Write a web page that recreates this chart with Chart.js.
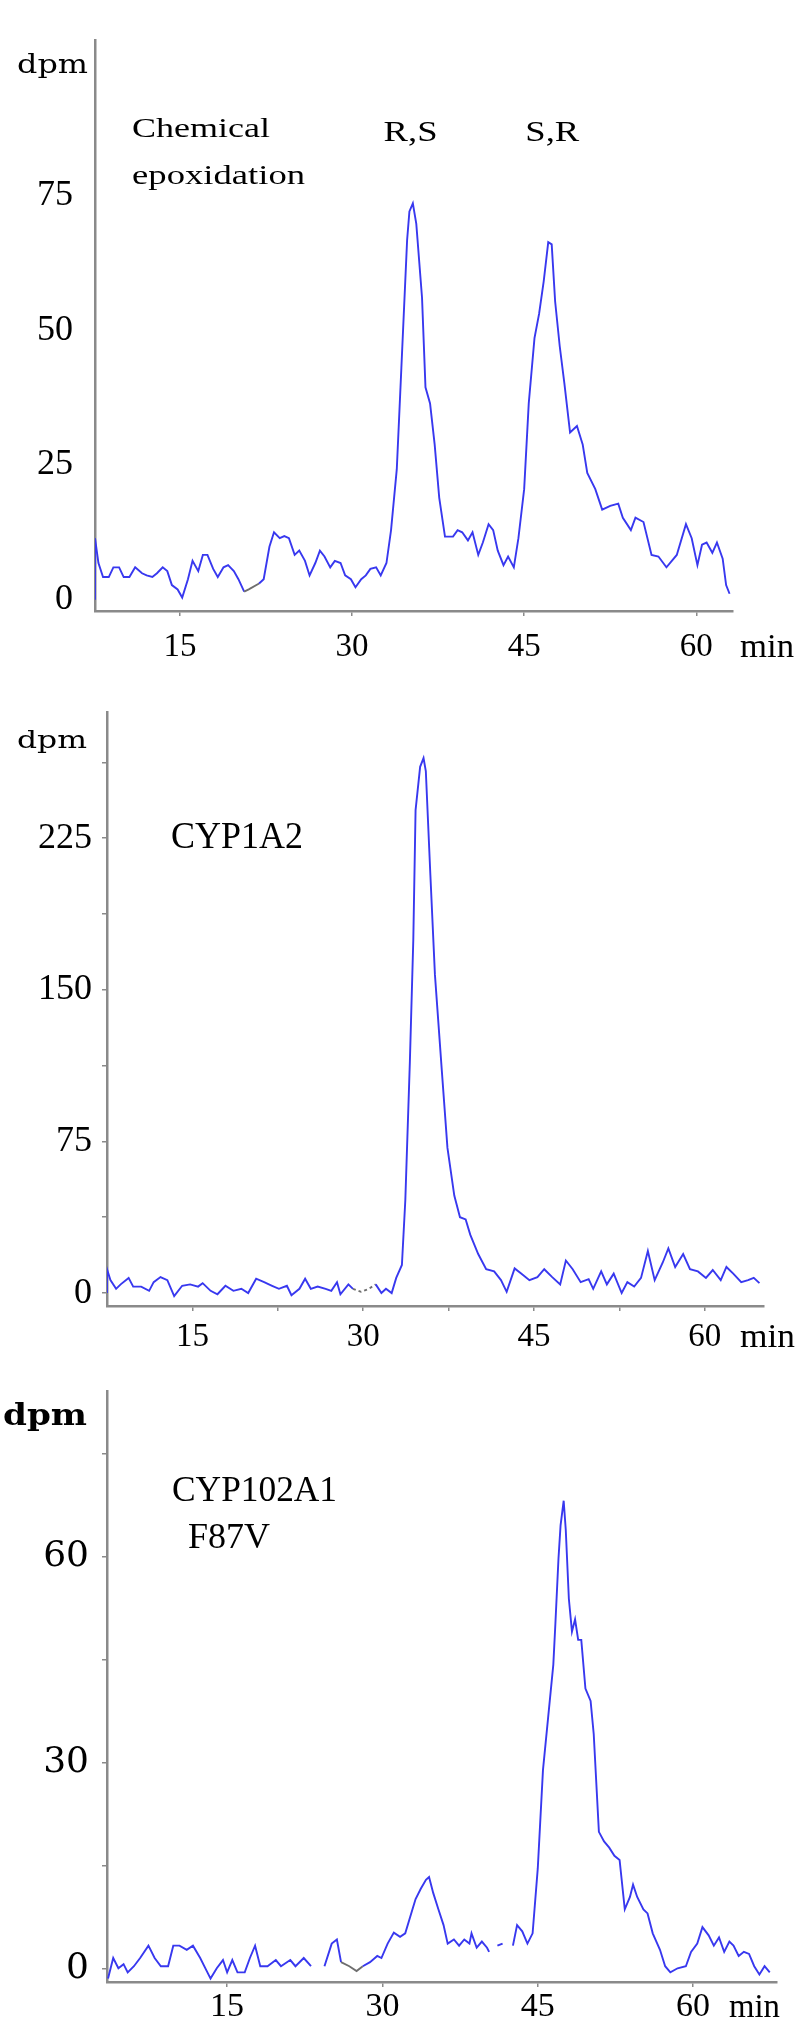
<!DOCTYPE html>
<html>
<head>
<meta charset="utf-8">
<script src="https://cdn.jsdelivr.net/npm/chart.js@4.4.0/dist/chart.umd.min.js"></script>
<style>
html, body { margin: 0; padding: 0; background: #fff; }
#wrap { position: relative; width: 797px; height: 2021px; background: #fff; }
canvas { position: absolute; left: 0; }
</style>
</head>
<body>
<div id="wrap">
  <canvas id="c1" width="797" height="680" style="top:0px;width:797px;height:680px"></canvas>
  <canvas id="c2" width="797" height="680" style="top:680px;width:797px;height:680px"></canvas>
  <canvas id="c3" width="797" height="661" style="top:1360px;width:797px;height:661px"></canvas>
</div>
<script>
// ---------- DATA ----------
// Panel 1: Chemical epoxidation (time in min, radioactivity in dpm)
const timeChem = [7.6,7.6,7.9,8.3,8.8,9.2,9.7,10.1,10.6,11.1,
  11.7,12.1,12.6,13.0,13.5,13.9,14.3,14.8,15.2,15.7,
  16.1,16.6,17.0,17.4,17.9,18.3,18.8,19.2,19.7,20.1,
  20.6,21.0,21.9,22.3,22.8,23.2,23.7,24.1,24.5,25.0,
  25.4,25.9,26.3,26.8,27.2,27.6,28.1,28.5,29.0,29.4,
  29.9,30.3,30.8,31.2,31.6,32.1,32.5,33.0,33.4,33.9,
  34.3,34.8,35.0,35.3,35.6,36.1,36.4,36.8,37.2,37.6,
  38.1,38.8,39.2,39.6,40.1,40.5,41.0,41.4,41.9,42.3,
  42.7,43.2,43.6,44.1,44.5,45.0,45.4,45.9,46.3,46.7,
  47.1,47.4,47.7,48.1,48.5,49.0,49.6,50.1,50.5,51.2,
  51.8,52.5,53.2,53.6,54.3,54.7,55.4,56.1,56.7,57.4,
  58.3,59.1,59.6,60.1,60.5,60.9,61.4,61.8,62.3,62.6,
  62.9];
const dpmChem = [0,11.4,6.8,4.2,4.2,6.0,6.0,4.2,4.2,6.0,
  4.9,4.5,4.2,4.9,6.0,5.3,2.7,1.9,0.4,3.8,
  7.2,5.3,8.3,8.3,5.7,4.2,6.0,6.4,5.3,3.8,
  1.5,1.9,3.0,3.8,9.8,12.5,11.4,11.8,11.4,8.3,
  9.1,7.2,4.5,6.8,9.1,8.0,6.0,7.2,6.8,4.5,
  3.8,2.3,3.8,4.5,5.7,6.0,4.5,6.8,12.9,24.2,
  43.0,66.7,72.0,73.5,69.7,56.0,39.4,36.4,28.8,18.9,
  11.7,11.7,12.9,12.5,11.0,12.5,8.3,10.6,14.0,12.9,
  9.1,6.4,8.0,6.0,11.4,20.5,36.4,48.5,53.0,59.0,
  66.3,65.9,55.3,47.0,40.2,31.0,32.2,28.8,23.5,20.5,
  16.7,17.4,17.8,15.2,12.9,15.2,14.4,8.3,8.0,6.0,
  8.3,14.0,11.4,6.4,10.2,10.6,8.7,10.6,7.6,2.7,
  1.1];
const grayChem = [[20.6, 21.9]];
const xTicksChem = [15, 30, 45, 60];
const xLabelsChem = [15, 30, 45, 60];
const yTicksChem = [0, 25, 50, 75];
const yLabelsChem = [0, 25, 50, 75];

// Panel 2: CYP1A2
const timeCyp1 = [7.5,7.5,7.8,8.3,8.7,9.4,9.8,10.5,11.2,11.6,
  12.2,12.8,13.4,14.1,14.8,15.5,15.9,16.6,17.2,17.9,
  18.6,19.3,19.9,20.6,21.3,22.0,22.6,23.3,23.7,24.4,
  24.9,25.4,26.0,26.7,27.2,27.7,28.0,28.7,29.1,29.8,
  30.5,31.1,31.6,32.0,32.5,32.9,33.4,33.7,34.1,34.4,
  34.6,35.0,35.3,35.5,35.9,36.3,36.9,37.4,38.0,38.5,
  39.0,39.4,40.1,40.8,41.5,42.1,42.6,43.3,43.9,44.6,
  45.3,45.9,46.6,47.3,47.8,48.4,49.1,49.8,50.2,50.9,
  51.4,52.0,52.7,53.2,53.8,54.4,55.0,55.6,56.3,56.8,
  57.4,58.1,58.7,59.4,60.1,60.7,61.4,61.9,62.5,63.2,
  63.8,64.3,64.8];
const dpmCyp1 = [0,11.8,6.4,2.1,4.3,7.5,3.2,3.2,1.1,5.4,
  7.9,6.4,-1.5,3.6,4.3,3.2,4.9,1.1,-0.6,3.6,
  1.1,2.1,0,7.1,5.4,3.6,2.1,3.6,-1.1,2.1,
  7.1,2.1,3.2,2.1,1.1,5.4,-0.6,4.3,2.1,0.6,
  2.1,4.3,0,2.1,0,7.5,13.9,46,114.6,174.6,
  238.9,260.3,264.6,258.2,206.8,157.5,110.4,71.8,48.2,37.5,
  36.4,28.9,19.3,11.8,10.7,6.4,0.6,12.2,9.6,6.4,
  7.9,11.8,7.9,4.3,16.1,11.8,5.4,6.9,2.1,10.7,
  4.3,9.6,0,5.4,3.2,7.5,20.8,6.4,15,22.1,
  12.9,19.3,11.8,10.7,7.5,11.4,6.4,12.9,9.6,5.4,
  6.4,7.5,4.9];
const grayCyp1 = [[29.1, 31.1]];
const xTicksCyp1 = [15, 22.5, 30, 37.5, 45, 52.5, 60];
const xLabelsCyp1 = [15, 30, 45, 60];
const yTicksCyp1 = [0, 37.5, 75, 112.5, 150, 187.5, 225, 262.5];
const yLabelsCyp1 = [0, 75, 150, 225];

// Panel 3: CYP102A1 F87V (null = break in the trace)
const timeCyp102 = [3.5,4.0,4.5,5.0,5.4,6.0,6.6,7.4,8.0,8.6,
  9.3,9.8,10.4,11.1,11.7,12.4,13.0,13.4,14.0,14.6,
  15.0,15.5,16.0,16.7,17.2,17.7,18.2,18.9,19.7,20.2,
  21.1,21.6,22.4,23.1,23.7,24.4,25.1,25.6,26.0,26.8,
  27.5,28.1,28.8,29.5,29.9,30.5,31.1,31.7,32.2,32.9,
  33.2,33.7,34.2,34.5,34.9,35.4,35.9,36.3,36.9,37.4,
  37.9,38.4,38.6,39.1,39.6,40.1,40.3,40.7,41.1,41.6,
  42.0,42.6,43.0,43.5,44.0,44.5,45.0,45.5,46.0,46.5,
  46.7,47.0,47.2,47.5,47.7,48.0,48.3,48.6,48.9,49.2,
  49.6,50.1,50.4,50.9,51.4,51.9,52.4,52.9,53.4,53.9,
  54.2,54.6,55.2,55.6,56.1,56.8,57.3,57.8,58.5,59.3,
  59.8,60.4,60.9,61.5,62.0,62.5,63.0,63.5,63.9,64.4,
  64.9,65.4,65.9,66.4,66.9,67.4];
const dpmCyp102 = [-1.5,1.5,0,0.6,-0.6,0.3,1.5,3.3,1.5,0.3,
  0.3,3.3,3.3,2.7,3.3,1.5,-0.3,-1.5,0,1.2,
  -0.6,1.2,-0.6,-0.6,1.5,3.3,0.3,0.3,1.2,0.3,
  1.2,0.3,1.5,0.3,null,0.3,3.6,4.2,0.9,0.3,
  -0.4,0.3,0.9,1.8,1.5,3.6,5.2,4.6,5.1,8.6,
  10.1,11.6,12.9,13.3,11,8.6,6.3,3.6,4.2,3.3,
  4.2,3.6,5.1,3,3.9,3,2.4,null,3.3,3.6,
  null,3.3,6.3,5.4,3.6,5.1,14.6,28.9,36.6,44.3,
  50.3,59.8,64.6,68.2,64,53.9,49.1,50.9,47.9,47.9,
  40.8,39,34.2,19.9,18.5,17.6,16.4,15.8,8.6,10.4,
  12.2,10.4,8.6,8,5.1,2.7,0.3,-0.6,0,0.3,
  2.4,3.6,6,4.8,3.3,4.5,2.4,3.9,3.3,1.8,
  2.4,2.1,0.3,-0.9,0.3,-0.6];
const grayCyp102 = [[26.0, 28.1]];
const xTicksCyp102 = [15, 30, 45, 60];
const xLabelsCyp102 = [15, 30, 45, 60];
const yTicksCyp102 = [0, 15, 30, 45, 60, 75];
const yLabelsCyp102 = [0, 30, 60];

// ---------- TEXT PLUGIN ----------
const panelText = {
  id: 'panelText',
  afterDraw(chart, args, opts) {
    const ctx = chart.ctx, ca = chart.chartArea;
    const xs = chart.scales.x, ys = chart.scales.y;
    ctx.save();
    ctx.fillStyle = '#000';
    ctx.textBaseline = 'alphabetic';
    for (const it of (opts.items || [])) {
      let px, py;
      if (it.anchor === 'data') { px = xs.getPixelForValue(it.x); py = ys.getPixelForValue(it.y); }
      else if (it.anchor === 'yTitle') { px = ca.left - it.dx; py = ca.top + it.dy; }
      else { px = ca.right + it.dx; py = ca.bottom + it.dy; }
      ctx.font = it.font;
      ctx.textAlign = it.align || 'left';
      const w = ctx.measureText(it.text).width;
      const sx = it.width ? it.width / w : 1;
      ctx.save();
      ctx.translate(px, py);
      ctx.scale(sx, 1);
      ctx.fillText(it.text, 0, 0);
      ctx.restore();
    }
    ctx.restore();
  }
};

const TRACE = '#3838ef';
const AXIS = '#8a8a8a';

function inGray(ranges, a, b) {
  return ranges.some(r => a >= r[0] - 1e-6 && b <= r[1] + 1e-6);
}

function makePanel(id, p) {
  const pts = p.times.map((t, i) => ({ x: t, y: p.values[i] }));
  return new Chart(document.getElementById(id), {
    type: 'line',
    data: {
      datasets: [{
        data: pts,
        borderColor: TRACE,
        borderWidth: 1.9,
        pointRadius: 0,
        tension: 0,
        spanGaps: false,
        segment: {
          borderColor: c => inGray(p.gray, c.p0.parsed.x, c.p1.parsed.x) ? '#6e6e6e' : undefined,
          borderDash: c => inGray(p.gray, c.p0.parsed.x, c.p1.parsed.x) && p.grayDash ? [3, 3] : undefined
        }
      }]
    },
    options: {
      responsive: false,
      animation: false,
      devicePixelRatio: 1,
      layout: { padding: { top: p.padTop, right: p.padRight, bottom: 0, left: 0 } },
      plugins: {
        legend: { display: false },
        tooltip: { enabled: false },
        panelText: { items: p.texts }
      },
      scales: {
        x: {
          type: 'linear', min: p.xMin, max: p.xMax,
          afterBuildTicks: s => { s.ticks = p.xTicks.map(v => ({ value: v })); },
          afterFit: s => { s.height = p.xHeight; },
          ticks: {
            autoSkip: false, maxRotation: 0, minRotation: 0,
            padding: p.xPad, color: '#000',
            font: { family: 'Liberation Serif', size: p.xFont, lineHeight: 1 },
            callback: v => p.xLabels.includes(v) ? String(v) : ''
          },
          grid: { drawOnChartArea: false, drawTicks: true, tickLength: 5, color: AXIS, lineWidth: 1.5 },
          border: { display: true, color: AXIS, width: 2.5 }
        },
        y: {
          type: 'linear', min: p.yMin, max: p.yMax,
          afterBuildTicks: s => { s.ticks = p.yTicks.map(v => ({ value: v })); },
          afterFit: s => { s.width = p.yWidth; },
          ticks: {
            autoSkip: false, padding: p.yPad, color: '#000',
            font: { family: p.yFamily, size: p.yFont, lineHeight: 1 },
            callback: v => p.yLabels.includes(v) ? String(v) : ''
          },
          grid: { drawOnChartArea: false, drawTicks: p.yTickMarks, tickLength: 5, color: AXIS, lineWidth: 1.5 },
          border: { display: true, color: AXIS, width: 2.5 }
        }
      }
    },
    plugins: [panelText]
  });
}

makePanel('c1', {
  times: timeChem, values: dpmChem, gray: grayChem, grayDash: false,
  xMin: 7.6, xMax: 63.2, yMin: -2.1, yMax: 103.8,
  xTicks: xTicksChem, xLabels: xLabelsChem, yTicks: yTicksChem, yLabels: yLabelsChem,
  padTop: 5, padRight: 64, xHeight: 69, yWidth: 95,
  xPad: 14.5, xFont: 33, yPad: 22, yFont: 36, yFamily: 'Liberation Serif', yTickMarks: false,
  texts: [
    { anchor: 'yTitle', text: 'dpm', dx: 7, dy: 33, font: '26px "DejaVu Serif"', width: 71, align: 'right' },
    { anchor: 'xTitle', text: 'min', dx: 7, dy: 46, font: '34px "Liberation Serif"', width: 54 },
    { anchor: 'data', text: 'Chemical', x: 10.83, y: 85.8, font: '28px "Liberation Serif"', width: 138 },
    { anchor: 'data', text: 'epoxidation', x: 10.83, y: 77.1, font: '28px "Liberation Serif"', width: 173 },
    { anchor: 'data', text: 'R,S', x: 35.1, y: 85.1, font: '29px "Liberation Serif"', width: 54, align: 'center' },
    { anchor: 'data', text: 'S,R', x: 47.45, y: 85.1, font: '29px "Liberation Serif"', width: 54, align: 'center' }
  ]
});

makePanel('c2', {
  times: timeCyp1, values: dpmCyp1, gray: grayCyp1, grayDash: true,
  xMin: 7.5, xMax: 65.2, yMin: -6.4, yMax: 287.4,
  xTicks: xTicksCyp1, xLabels: xLabelsCyp1, yTicks: yTicksCyp1, yLabels: yLabelsCyp1,
  padTop: 32, padRight: 33, xHeight: 54, yWidth: 107,
  xPad: 9.5, xFont: 33, yPad: 10, yFont: 36, yFamily: 'Liberation Serif', yTickMarks: true,
  texts: [
    { anchor: 'yTitle', text: 'dpm', dx: 20, dy: 36, font: '25px "DejaVu Serif"', width: 70, align: 'right' },
    { anchor: 'xTitle', text: 'min', dx: -24, dy: 41, font: '34px "Liberation Serif"', width: 55 },
    { anchor: 'data', text: 'CYP1A2', x: 13.12, y: 220.1, font: '37px "Liberation Serif"', width: 132 }
  ]
});

makePanel('c3', {
  times: timeCyp102, values: dpmCyp102, gray: grayCyp102, grayDash: false,
  xMin: 3.4, xMax: 68.1, yMin: -2.0, yMax: 84.2,
  xTicks: xTicksCyp102, xLabels: xLabelsCyp102, yTicks: yTicksCyp102, yLabels: yLabelsCyp102,
  padTop: 13, padRight: 20, xHeight: 39, yWidth: 107,
  xPad: 3, xFont: 34, yPad: 13, yFont: 36, yFamily: 'DejaVu Serif', yTickMarks: true,
  texts: [
    { anchor: 'yTitle', text: 'dpm', dx: 20, dy: 34, font: 'bold 30px "DejaVu Serif"', width: 84, align: 'right' },
    { anchor: 'xTitle', text: 'min', dx: -48, dy: 35, font: '34px "Liberation Serif"', width: 51 },
    { anchor: 'data', text: 'CYP102A1', x: 9.68, y: 68.1, font: '36px "Liberation Serif"', width: 165 },
    { anchor: 'data', text: 'F87V', x: 11.22, y: 61.3, font: '36px "Liberation Serif"', width: 82 }
  ]
});
</script>
</body>
</html>
